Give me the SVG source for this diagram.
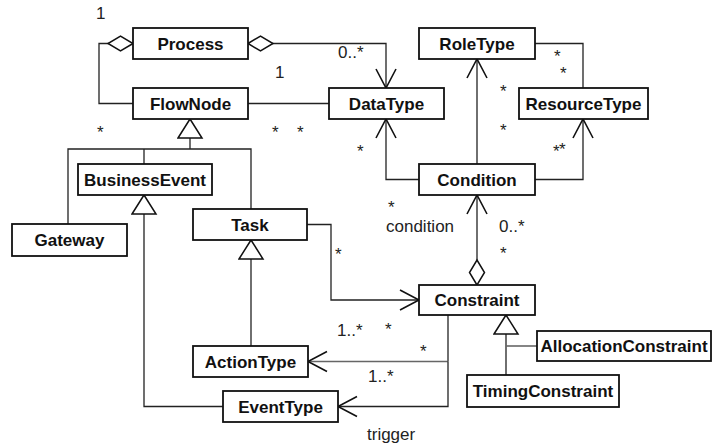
<svg xmlns="http://www.w3.org/2000/svg" width="712" height="448" viewBox="0 0 712 448">
<style>
.node rect{fill:#fff;stroke:#111;stroke-width:1.8}
.node text{font-family:"Liberation Sans",Arial,sans-serif;font-weight:bold;font-size:17px;text-anchor:middle;fill:#111}
.edges path{fill:none;stroke:#222;stroke-width:1.3}
.edges path.grey{stroke:#666;stroke-width:1.6}
.lbl{font-family:"Liberation Sans",Arial,sans-serif;font-size:17px;fill:#222}
</style>
<defs>
<marker id="arrow" markerUnits="userSpaceOnUse" markerWidth="22" markerHeight="24" viewBox="0 0 22 24" refX="20" refY="11" orient="auto">
<path d="M1,1 L20,11 L1,21" fill="none" stroke="#111" stroke-width="1.6"/>
</marker>
<marker id="diamond" markerUnits="userSpaceOnUse" markerWidth="28" markerHeight="18" viewBox="0 0 28 18" refX="1" refY="9" orient="auto">
<path d="M1,9 L13.5,1.5 L26,9 L13.5,16.5 Z" fill="#fff" stroke="#111" stroke-width="1.5"/>
</marker>
<marker id="tri" markerUnits="userSpaceOnUse" markerWidth="22" markerHeight="28" viewBox="0 0 22 28" refX="20" refY="13" orient="auto">
<path d="M1,1 L20,13 L1,25 Z" fill="#fff" stroke="#111" stroke-width="1.5"/>
</marker>
</defs>
<rect width="712" height="448" fill="#fff"/>
<g id="connectors" class="edges">
<path d="M133,43.5 H99 V103.5 H133" marker-start="url(#diamond)"/>
<path d="M248,43.5 H386 V88" marker-start="url(#diamond)" marker-end="url(#arrow)"/>
<path d="M248,103.5 H329"/>
<path d="M535,43.5 H583 V88"/>
<path d="M477,164 V59" marker-end="url(#arrow)"/>
<path d="M419,179.5 H386 V119" marker-end="url(#arrow)"/>
<path d="M535,179.5 H583 V119" marker-end="url(#arrow)"/>
<path d="M477,285 V195" marker-start="url(#diamond)" marker-end="url(#arrow)"/>
<path d="M190,149 V119" marker-end="url(#tri)"/>
<path d="M68,224 V149 H251 V209"/>
<path d="M144,149 V164"/>
<path d="M223,406.5 H144 V195" marker-end="url(#tri)"/>
<path d="M251,346 V240" marker-end="url(#tri)"/>
<path d="M307,224.5 H331 V300 H419" marker-end="url(#arrow)"/>
<path d="M448,315 V361.5"/>
<path class="grey" d="M448,361.5 H308" marker-end="url(#arrow)"/>
<path d="M448,361.5 V406.5 H338" marker-end="url(#arrow)"/>
<path d="M506,375 V315" marker-end="url(#tri)"/>
<path class="grey" d="M506,346 H537"/>
</g>
<g id="labels" class="lbl">
<text x="96" y="19">1</text>
<text x="275" y="78">1</text>
<text x="338" y="58">0..*</text>
<text x="97" y="138">*</text>
<text x="272" y="138">*</text>
<text x="297" y="138">*</text>
<text x="357" y="157">*</text>
<text x="554" y="62">*</text>
<text x="560" y="79">*</text>
<text x="500" y="97">*</text>
<text x="500" y="136">*</text>
<text x="553" y="157">*</text>
<text x="559" y="155">*</text>
<text x="388" y="213">*</text>
<text x="386" y="232">condition</text>
<text x="499" y="232">0..*</text>
<text x="500" y="259">*</text>
<text x="335" y="260">*</text>
<text x="337" y="336">1..*</text>
<text x="385" y="335">*</text>
<text x="420" y="357">*</text>
<text x="368" y="382">1..*</text>
<text x="367" y="440">trigger</text>
</g>
<g id="Process" class="node"><rect x="133" y="28" width="115" height="31"/><text x="190.5" y="49.5">Process</text></g>
<g id="FlowNode" class="node"><rect x="133" y="88" width="115" height="31"/><text x="190.5" y="109.5">FlowNode</text></g>
<g id="DataType" class="node"><rect x="329" y="88" width="115" height="31"/><text x="386.5" y="109.5">DataType</text></g>
<g id="RoleType" class="node"><rect x="419" y="28" width="116" height="31"/><text x="477" y="49.5">RoleType</text></g>
<g id="ResourceType" class="node"><rect x="519" y="88" width="129" height="31"/><text x="583.5" y="109.5">ResourceType</text></g>
<g id="Condition" class="node"><rect x="419" y="164" width="116" height="31"/><text x="477" y="185.5">Condition</text></g>
<g id="Gateway" class="node"><rect x="12" y="224" width="115" height="32"/><text x="69.5" y="246">Gateway</text></g>
<g id="BusinessEvent" class="node"><rect x="78" y="164" width="134" height="31"/><text x="145" y="185.5">BusinessEvent</text></g>
<g id="Task" class="node"><rect x="193" y="209" width="114" height="31"/><text x="250" y="230.5">Task</text></g>
<g id="Constraint" class="node"><rect x="419" y="285" width="116" height="30"/><text x="477" y="306">Constraint</text></g>
<g id="ActionType" class="node"><rect x="193" y="346" width="115" height="31"/><text x="250.5" y="367.5">ActionType</text></g>
<g id="EventType" class="node"><rect x="223" y="391" width="115" height="31"/><text x="280.5" y="412.5">EventType</text></g>
<g id="AllocationConstraint" class="node"><rect x="537" y="331" width="174" height="30"/><text x="624" y="352">AllocationConstraint</text></g>
<g id="TimingConstraint" class="node"><rect x="467" y="375" width="152" height="32"/><text x="543" y="397">TimingConstraint</text></g>
</svg>
